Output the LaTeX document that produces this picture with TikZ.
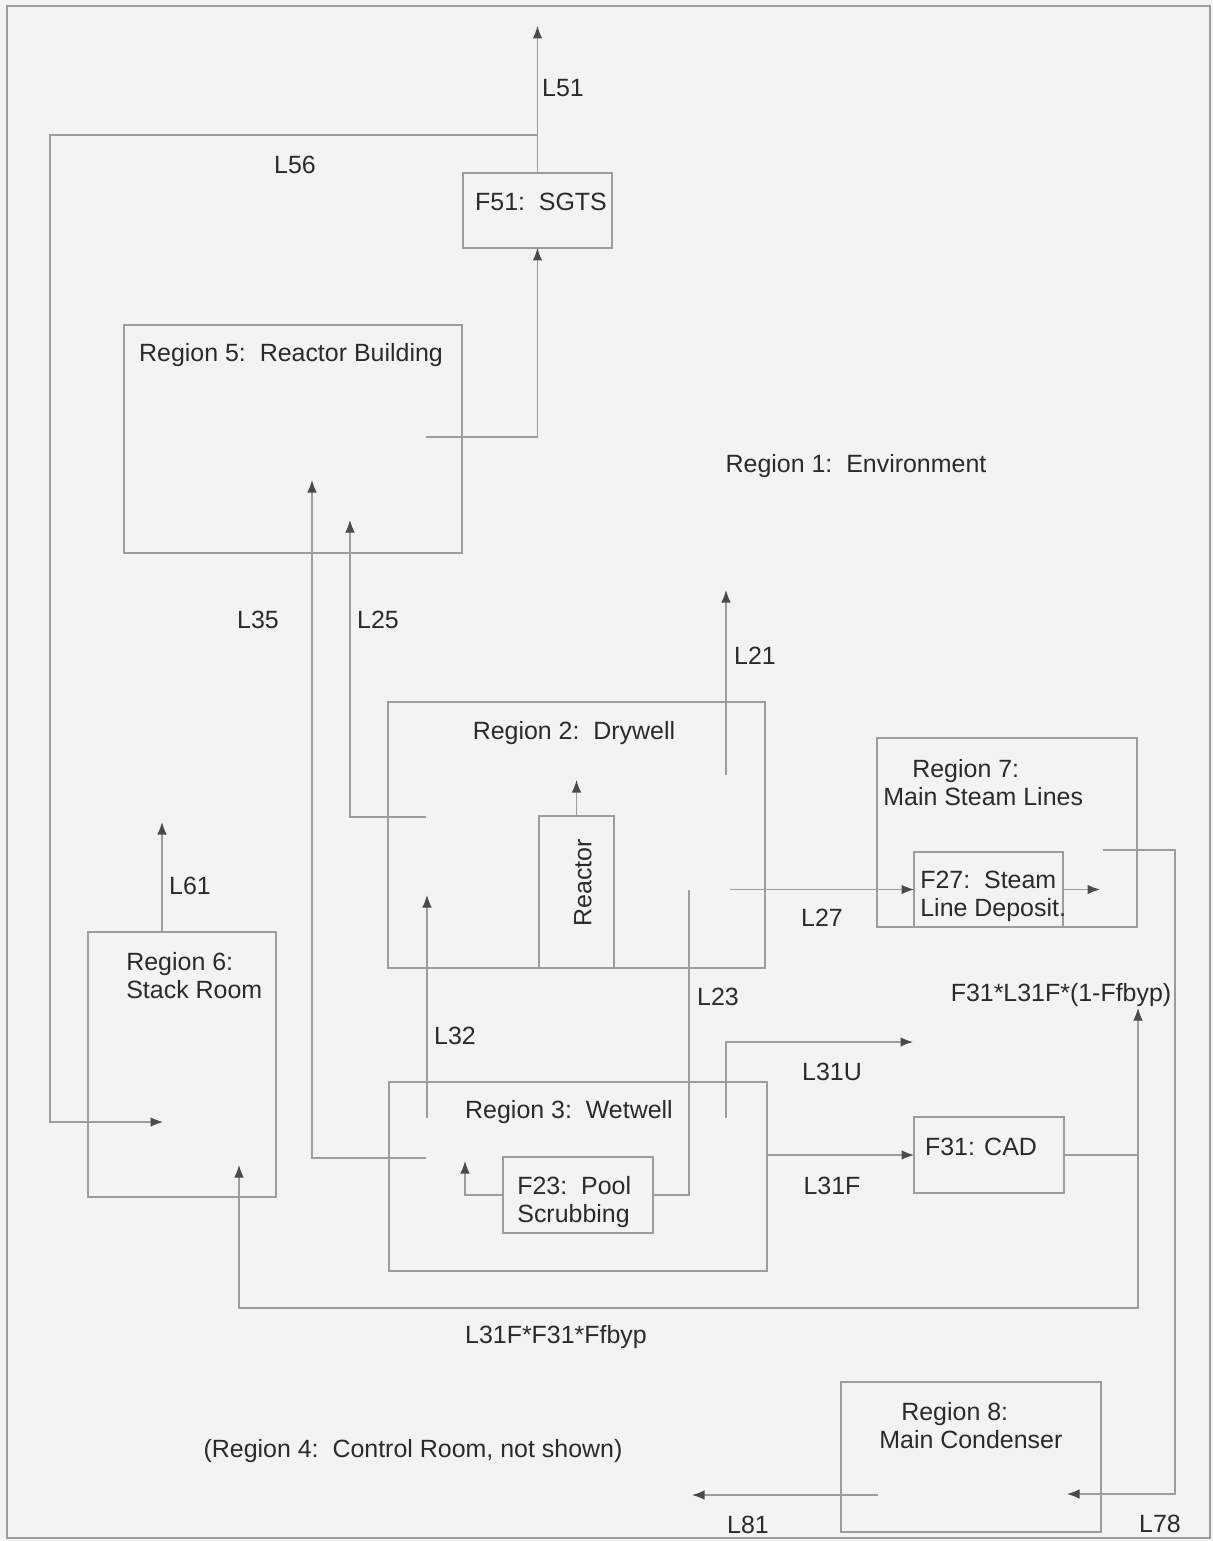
\documentclass[tikz,border=0pt]{standalone}
\usepackage{fontspec}
\setmainfont{Liberation Sans}
\usetikzlibrary{arrows.meta}
\definecolor{bg}{HTML}{F3F3F1}
\definecolor{ln}{HTML}{9C9C9C}
\definecolor{tx}{HTML}{2A2A2A}
\begin{document}
\begin{tikzpicture}[x=0.02cm,y=-0.02cm,
  box/.style={draw=ln, line width=0.7pt, inner sep=0pt, outer sep=0pt, rectangle},
  lbl/.style={text=tx, font=\fontsize{14.2}{16}\selectfont, inner sep=0pt},
  con/.style={draw=ln, line width=0.7pt},
  arr/.style={con, -{Latex[length=2.5mm,width=1.9mm,color=tx!85]}}]
\useasboundingbox (0,0) rectangle (1213,1541);
\fill[bg] (0,0) rectangle (1213,1541);
\draw[ln, line width=0.9pt] (7,6) rectangle (1210,1538);

% boxes
\node[box, minimum width=2.98cm, minimum height=1.5cm] (f51) at (537.5,210.5) {};
\node[box, minimum width=6.76cm, minimum height=4.56cm] (r5) at (293,439) {};
\node[box, minimum width=7.54cm, minimum height=5.32cm] (r2) at (576.5,835) {};
\node[box, minimum width=1.5cm, minimum height=3.04cm] (rx) at (576.5,892) {};
\node[box, minimum width=5.2cm, minimum height=3.78cm] (r7) at (1007,832.5) {};
\node[box, minimum width=2.98cm, minimum height=1.5cm] (f27) at (988.5,889.5) {};
\node[box, minimum width=3.76cm, minimum height=5.3cm] (r6) at (182,1064.5) {};
\node[box, minimum width=7.56cm, minimum height=3.78cm] (r3) at (578,1176.5) {};
\node[box, minimum width=3.0cm, minimum height=1.52cm] (f23) at (578,1195) {};
\node[box, minimum width=3.0cm, minimum height=1.52cm] (f31) at (989,1155) {};
\node[box, minimum width=5.2cm, minimum height=3.0cm] (r8) at (971,1457) {};

% box texts
\node[lbl] (tf51) at (541,202) {F51:\ \ SGTS};
\node[lbl] (tr5) at (291,355) {Region 5:\ \ Reactor Building};
\node[lbl] (tr1) at (856,466) {Region 1:\ \ Environment};
\node[lbl] (tr2) at (574,733) {Region 2:\ \ Drywell};
\node[lbl, rotate=90] (trx) at (583,883) {Reactor};
\node[lbl, align=left, anchor=west] (tr7) at (883,783) {\hspace*{0.58cm}Region 7:\\Main Steam Lines};
\node[lbl, align=left, anchor=west] (tf27) at (920,896) {F27:\ \ Steam\\Line Deposit.};
\node[lbl, align=left, anchor=west] (tr6) at (126,976) {Region 6:\\Stack Room};
\node[lbl] (tr3) at (569,1112) {Region 3:\ \ Wetwell};
\node[lbl, align=left, anchor=west] (tf23) at (517,1202) {F23:\ \ Pool\\Scrubbing};
\node[lbl] (tf31) at (981,1147) {F31: CAD};
\node[lbl, align=left, anchor=west] (tr8) at (879,1426) {\hspace*{0.44cm}Region 8:\\Main Condenser};
\node[lbl] (tr4) at (413,1451) {(Region 4:\ \ Control Room, not shown)};

% connector labels
\node[lbl] (l51) at (563,88) {L51};
\node[lbl] (l56) at (295,165) {L56};
\node[lbl] (l35) at (258,620) {L35};
\node[lbl] (l25) at (378,620) {L25};
\node[lbl] (l21) at (755,656) {L21};
\node[lbl] (l61) at (190,886) {L61};
\node[lbl] (l27) at (822,918) {L27};
\node[lbl] (l23) at (718,997) {L23};
\node[lbl] (lcadu) at (1061,995) {F31*L31F*(1-Ffbyp)};
\node[lbl] (l32) at (455,1036) {L32};
\node[lbl] (l31u) at (832,1072) {L31U};
\node[lbl] (l31f) at (832,1186) {L31F};
\node[lbl] (lcadb) at (556,1337) {L31F*F31*Ffbyp};
\node[lbl] (l81) at (748,1525) {L81};
\node[lbl] (l78) at (1160,1524) {L78};

% coordinates
\coordinate (c51) at (537.5,26);
\coordinate (j56) at (537.5,135);
\coordinate (t56) at (163,1122);
\coordinate (s5) at (426,437);
\coordinate (s35) at (426,1158);
\coordinate (t35) at (312,480);
\coordinate (s25) at (426,817);
\coordinate (t25) at (350,520);
\coordinate (trx2) at (576.5,780);
\coordinate (s21) at (726,775);
\coordinate (t21) at (726,590);
\coordinate (s27) at (730,889.5);
\coordinate (t27o) at (1100,889.5);
\coordinate (s78) at (1103,850);
\coordinate (t78) at (1067,1494);
\coordinate (s81) at (878,1495);
\coordinate (t81) at (692,1495);
\coordinate (t23) at (689,890);
\coordinate (s32) at (427,1118);
\coordinate (t32) at (427,895);
\coordinate (t23l) at (465,1161);
\coordinate (s31u) at (726,1118);
\coordinate (t31u) at (913,1042);
\coordinate (jc) at (1138,1155);
\coordinate (t31a) at (1138,1008);
\coordinate (t31b) at (239,1165);
\coordinate (s61) at (162,932);
\coordinate (t61) at (162,822);

% connectors
\draw[arr] (f51.north) -- (c51);
\draw[arr] (j56) -| (50,1122) -- (t56);
\draw[arr] (s5) -| (f51.south);
\draw[arr] (s35) -| (t35);
\draw[arr] (s25) -| (t25);
\draw[arr] (rx.north) -- (trx2);
\draw[arr] (s21) -- (t21);
\draw[arr] (s27) -- (f27.west);
\draw[arr] (f27.east) -- (t27o);
\draw[arr] (s78) -| (1175,1494) -- (t78);
\draw[arr] (s81) -- (t81);
\draw[con] (f23.east) -| (t23);
\draw[arr] (s32) -- (t32);
\draw[arr] (f23.west) -| (t23l);
\draw[arr] (s31u) |- (t31u);
\draw[arr] (r3.east |- f31.west) -- (f31.west);
\draw[con] (f31.east) -- (jc);
\draw[arr] (jc) -- (t31a);
\draw[arr] (jc) -- (1138,1308) -| (t31b);
\draw[arr] (s61) -- (t61);
\end{tikzpicture}
\end{document}
